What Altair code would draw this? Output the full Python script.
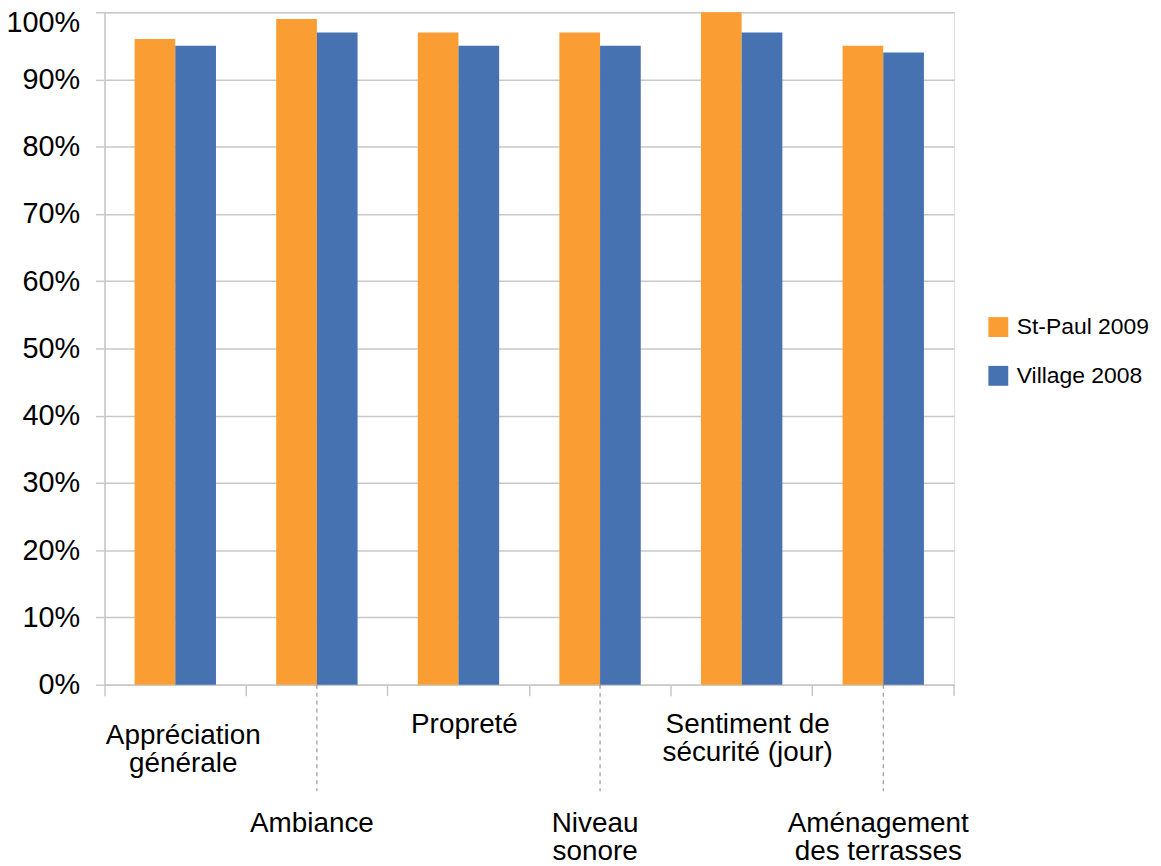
import altair as alt
import pandas as pd

# ---- data ----
categories = ["Appréciation générale", "Ambiance", "Propreté", "Niveau sonore",
              "Sentiment de sécurité (jour)", "Aménagement des terrasses"]
label_text = ["Appréciation\ngénérale", "Ambiance", "Propreté", "Niveau\nsonore",
              "Sentiment de\nsécurité (jour)", "Aménagement\ndes terrasses"]
label_row = ["top_low", "bottom", "top", "bottom", "top", "bottom"]
series = ["St-Paul 2009", "Village 2008"]
st_paul_2009 = [96, 99, 97, 97, 100, 95]
village_2008 = [95, 97, 95, 95, 97, 94]
y_ticks = [0, 10, 20, 30, 40, 50, 60, 70, 80, 90, 100]

rows = []
for i, c in enumerate(categories):
    rows.append({"cat": c, "series": series[0], "value": st_paul_2009[i]})
    rows.append({"cat": c, "series": series[1], "value": village_2008[i]})
bars_df = pd.DataFrame(rows)
labels_df = pd.DataFrame({"cat": categories, "label": label_text, "row": label_row})

# ---- style ----
FONT = "Liberation Sans"
GRID = "#C8C8C8"
ORANGE = "#FA9E34"
BLUE = "#4672B1"
W, H = 854, 676

x_enc = alt.X(
    "cat:N", sort=categories, title=None,
    scale=alt.Scale(paddingInner=0, paddingOuter=0),
    axis=alt.Axis(bandPosition=0, labels=False, grid=False, ticks=True, tickSize=11,
                  tickColor=GRID, tickWidth=1.5, domainColor=GRID, domainWidth=1.5),
)

bars = alt.Chart(bars_df).mark_bar().encode(
    x=x_enc,
    xOffset=alt.XOffset("series:N", sort=series,
                        scale=alt.Scale(paddingInner=0, paddingOuter=0.74)),
    y=alt.Y("value:Q", title=None,
            scale=alt.Scale(domain=[0, 100], nice=False, zero=True),
            axis=alt.Axis(values=y_ticks, labelExpr="datum.value + '%'",
                          grid=True, gridColor=GRID, gridWidth=1.5,
                          tickSize=9, tickColor=GRID, tickWidth=1.5,
                          domainColor=GRID, domainWidth=1.5,
                          labelFont=FONT, labelFontSize=29, labelColor="black",
                          labelPadding=16,
                          labelOffset={"condition": {"test": "datum.value == 100", "value": 10},
                                       "value": 0})),
    color=alt.Color("series:N", sort=series,
                    scale=alt.Scale(domain=series, range=[ORANGE, BLUE]),
                    legend=alt.Legend(orient="none", legendX=887, legendY=305,
                                      title=None, symbolType="square", symbolSize=400,
                                      symbolStrokeWidth=0, labelFontSize=23,
                                      labelFont=FONT, labelColor="black",
                                      rowPadding=25, labelOffset=7, padding=0)),
)

end_tick = alt.Chart(labels_df).transform_filter(
    alt.datum.cat == categories[-1]
).mark_rule(color=GRID, strokeWidth=1.5).encode(
    x=alt.X("cat:N", sort=categories, bandPosition=1),
    y=alt.value(H), y2=alt.value(H + 11),
)

leaders = alt.Chart(labels_df).transform_filter(
    alt.datum.row == "bottom"
).mark_rule(color="#999999", strokeWidth=1.2, strokeDash=[4, 4]).encode(
    x=alt.X("cat:N", sort=categories),
    y=alt.value(H), y2=alt.value(H + 107),
)

def label_layer(row, y_px, dx):
    return alt.Chart(labels_df).transform_filter(
        alt.datum.row == row
    ).mark_text(font=FONT, fontSize=28, color="black", lineBreak="\n",
                lineHeight=28, align="center", baseline="alphabetic", dx=dx).encode(
        x=alt.X("cat:N", sort=categories),
        y=alt.value(y_px),
        text="label:N",
    )

chart = alt.layer(
    bars, end_tick, leaders,
    label_layer("top_low", 736, 8),
    label_layer("top", 725, 6),
    label_layer("bottom", 824, -5),
).properties(
    width=W, height=H,
    autosize=alt.AutoSizeParams(type="none"),
    padding={"left": 97, "top": 2, "right": 200, "bottom": 180},
).configure_view(stroke=None).configure(background="white")

chart.save("out.html", embed_options={"renderer": "svg", "actions": False})
